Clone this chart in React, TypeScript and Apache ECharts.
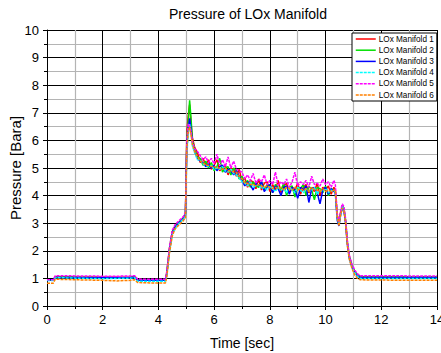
import React, { useEffect, useRef } from "react";
import * as echarts from "echarts";

const TITLE = "Pressure of LOx Manifold";
const X_NAME = "Time [sec]";
const Y_NAME = "Pressure [Bara]";
const SERIES_NAMES = ["LOx Manifold 1", "LOx Manifold 2", "LOx Manifold 3", "LOx Manifold 4", "LOx Manifold 5", "LOx Manifold 6"];
const COLORS = ["#ff0000", "#00e000", "#0000ff", "#00ffff", "#ff00ff", "#ff8000"];
const DASHED = [false, false, false, true, true, true];

// time stamps [sec]
const T = [
  0, 0.22, 0.3, 0.6, 1.0, 1.5, 2.0, 2.5, 3.0, 3.15, 3.25, 3.5, 4.0, 4.25, 4.3, 4.4, 4.5, 4.6, 4.7, 4.8, 4.9, 4.97, 5.02, 5.07, 5.12, 5.17, 5.22, 5.3,
  5.4, 5.5, 5.6, 5.7, 5.8, 5.9, 6.0, 6.1, 6.2, 6.3, 6.4, 6.5, 6.6, 6.7, 6.8, 6.9, 7.0, 7.1, 7.2, 7.3, 7.4, 7.5, 7.6, 7.7, 7.8, 7.9,
  8.0, 8.1, 8.2, 8.3, 8.4, 8.5, 8.6, 8.7, 8.8, 8.9, 9.0, 9.1, 9.2, 9.3, 9.4, 9.5, 9.6, 9.7, 9.8, 9.9, 10.0, 10.1, 10.2, 10.3,
  10.35, 10.42, 10.48, 10.54, 10.6, 10.66, 10.72, 10.78, 10.85, 10.95, 11.05, 11.15, 11.25, 11.5, 12, 13, 14,
];

const M1 = [
  0.93, 0.93, 1.06, 1.06, 1.05, 1.05, 1.04, 1.04, 1.05, 1.06, 0.96, 0.95, 0.95, 0.95, 1.2, 2.1, 2.7, 2.9, 3.0, 3.1, 3.2, 3.35, 6.3, 6.9, 7.3, 6.6, 6.1, 5.75,
  5.55, 5.2, 5.35, 5.1, 5.3, 4.95, 5.1, 5.3, 4.9, 5.0, 5.1, 4.75, 5.0, 4.95, 4.7, 4.95, 4.5, 4.65, 4.3, 4.55, 4.5, 4.25, 4.6, 4.2, 4.45, 4.5,
  4.15, 4.4, 4.2, 4.55, 4.1, 4.35, 4.45, 4.1, 4.3, 4.2, 4.45, 4.05, 4.3, 4.4, 4.1, 4.3, 4.15, 4.45, 4.0, 4.3, 4.2, 4.35, 4.05, 4.3,
  4.2, 3.2, 3.0, 3.4, 3.6, 3.5, 3.05, 2.3, 1.8, 1.45, 1.25, 1.12, 1.06, 1.06, 1.06, 1.05, 1.05,
];
const M2 = [
  0.93, 0.93, 1.05, 1.05, 1.05, 1.04, 1.04, 1.03, 1.04, 1.05, 0.95, 0.94, 0.94, 0.94, 1.2, 2.1, 2.7, 2.9, 3.0, 3.1, 3.2, 3.35, 6.1, 6.7, 7.45, 6.8, 6.0, 5.7,
  5.4, 5.35, 5.1, 5.25, 5.0, 5.2, 4.9, 5.05, 5.35, 4.85, 5.0, 5.05, 4.75, 5.0, 4.9, 4.6, 4.7, 4.4, 4.55, 4.3, 4.5, 4.35, 4.3, 4.5, 4.2, 4.4,
  4.35, 4.1, 4.4, 4.3, 4.2, 4.45, 4.0, 4.3, 4.35, 3.95, 4.3, 4.25, 4.4, 4.0, 4.35, 4.2, 3.85, 4.3, 4.25, 4.1, 4.35, 4.0, 4.25, 4.2,
  4.15, 3.3, 2.95, 3.35, 3.65, 3.55, 3.1, 2.35, 1.8, 1.45, 1.25, 1.12, 1.06, 1.05, 1.05, 1.05, 1.05,
];
const M3 = [
  0.95, 0.95, 1.03, 1.03, 1.03, 1.02, 1.02, 1.02, 1.03, 1.04, 0.93, 0.93, 0.93, 0.93, 1.15, 2.05, 2.65, 2.85, 2.97, 3.07, 3.17, 3.3, 5.9, 6.4, 6.8, 6.4, 5.9, 5.6,
  5.35, 5.25, 5.2, 5.05, 5.15, 5.0, 5.1, 4.9, 5.05, 5.1, 4.85, 4.95, 4.9, 4.75, 4.9, 4.7, 4.55, 4.35, 4.5, 4.4, 4.2, 4.45, 4.35, 4.5, 4.15, 4.3,
  4.4, 4.1, 4.35, 4.25, 4.0, 4.3, 4.35, 4.05, 4.3, 4.2, 3.9, 4.3, 4.2, 4.35, 3.75, 4.25, 4.3, 4.1, 3.7, 4.2, 4.3, 4.05, 4.25, 4.15,
  4.1, 3.1, 2.9, 3.3, 3.55, 3.45, 3.0, 2.25, 1.75, 1.4, 1.2, 1.08, 1.03, 1.03, 1.03, 1.03, 1.03,
];
const M4 = [
  0.92, 0.92, 1.02, 1.02, 1.01, 1.0, 0.99, 1.0, 1.01, 1.02, 0.9, 0.9, 0.9, 0.9, 1.1, 2.0, 2.6, 2.8, 2.95, 3.05, 3.15, 3.25, 5.5, 6.2, 6.6, 6.3, 5.8, 5.55,
  5.3, 5.3, 5.15, 5.1, 5.05, 5.1, 4.95, 5.0, 4.95, 5.05, 4.9, 4.85, 4.95, 4.8, 4.75, 4.65, 4.5, 4.45, 4.35, 4.5, 4.3, 4.35, 4.4, 4.25, 4.3, 4.2,
  4.35, 4.25, 4.15, 4.3, 4.2, 4.25, 4.1, 4.3, 4.2, 4.1, 4.3, 4.2, 4.1, 4.25, 4.15, 4.2, 4.3, 4.05, 4.2, 4.15, 4.25, 4.1, 4.2, 4.15,
  4.15, 3.15, 2.95, 3.3, 3.6, 3.5, 3.05, 2.3, 1.75, 1.4, 1.2, 1.06, 1.0, 1.0, 1.0, 1.0, 1.0,
];
const M5 = [
  0.95, 0.95, 1.1, 1.1, 1.09, 1.09, 1.08, 1.08, 1.09, 1.1, 0.98, 0.97, 0.97, 0.97, 1.25, 2.15, 2.75, 2.95, 3.05, 3.15, 3.25, 3.4, 6.0, 6.6, 6.5, 6.3, 5.95, 5.7,
  5.6, 5.45, 5.3, 5.4, 5.2, 5.35, 5.15, 5.5, 5.1, 5.3, 5.05, 5.4, 5.0, 5.25, 4.95, 4.9, 4.85, 4.6, 4.75, 4.55, 4.8, 4.45, 4.6, 4.5, 4.75, 4.4,
  4.55, 4.4, 4.85, 4.35, 4.5, 4.4, 4.6, 4.3, 4.5, 4.85, 4.35, 4.5, 4.4, 4.55, 4.3, 4.7, 4.4, 4.45, 4.35, 4.6, 4.4, 4.5, 4.3, 4.55,
  4.4, 3.35, 3.05, 3.45, 3.7, 3.6, 3.15, 2.4, 1.85, 1.5, 1.3, 1.16, 1.1, 1.1, 1.1, 1.09, 1.09,
];
const M6 = [
  0.82, 0.82, 0.97, 0.96, 0.95, 0.94, 0.93, 0.91, 0.93, 0.95, 0.85, 0.84, 0.83, 0.83, 1.05, 1.95, 2.55, 2.8, 2.9, 3.0, 3.1, 3.2, 5.7, 6.3, 6.5, 6.2, 5.85, 5.6,
  5.4, 5.25, 5.2, 5.1, 5.1, 5.05, 5.05, 5.0, 5.0, 4.95, 5.0, 4.9, 4.9, 4.85, 4.85, 4.7, 4.6, 4.45, 4.45, 4.4, 4.4, 4.35, 4.4, 4.35, 4.3, 4.35,
  4.3, 4.25, 4.3, 4.25, 4.3, 4.2, 4.3, 4.25, 4.2, 4.3, 4.2, 4.25, 4.2, 4.25, 4.15, 4.3, 4.2, 4.2, 4.15, 4.25, 4.15, 4.2, 4.15, 4.2,
  4.2, 3.2, 2.9, 3.3, 3.55, 3.45, 3.0, 2.2, 1.7, 1.35, 1.12, 1.0, 0.95, 0.94, 0.94, 0.93, 0.93,
];
const VALUES = [M1, M2, M3, M4, M5, M6];

const FONT = "'Liberation Sans', Arial, sans-serif";

export default function App() {
  const ref = useRef<HTMLDivElement>(null);
  useEffect(() => {
    if (!ref.current) return;
    const chart = echarts.init(ref.current, undefined, { renderer: "svg" });
    const axisCommon = {
      axisLine: { show: true, onZero: false, lineStyle: { color: "#000", width: 1 } },
      axisTick: { show: true, inside: false, length: 4, lineStyle: { color: "#000" } },
      minorTick: { show: true, splitNumber: 2, length: 3, lineStyle: { color: "#000" } },
      splitLine: { show: true, lineStyle: { color: "#000", width: 1 } },
      minorSplitLine: { show: true, lineStyle: { color: "#b4b4b4", width: 1.2 } },
      axisLabel: { color: "#000", fontSize: 13, fontFamily: FONT },
      nameMoveOverlap: false,
    };
    chart.setOption({
      animation: false,
      backgroundColor: "#fff",
      textStyle: { fontFamily: FONT },
      title: {
        text: TITLE,
        left: 169,
        top: 7,
        padding: 0,
        textStyle: { fontSize: 14, fontWeight: "normal", color: "#000", fontFamily: FONT },
      },
      legend: {
        orient: "vertical",
        left: 352,
        top: 33,
        padding: [2, 3, 2, 3],
        itemWidth: 20,
        itemHeight: 8,
        itemGap: 3.2,
        backgroundColor: "#fff",
        borderColor: "#000",
        borderWidth: 1,
        borderRadius: 0,
        itemStyle: { opacity: 0 },
        lineStyle: { width: 1.5 },
        textStyle: { fontSize: 8.2, lineHeight: 8, color: "#000", fontFamily: FONT, padding: [0, 0, 0, -2] },
        data: SERIES_NAMES,
      },
      grid: { left: 47, right: 4, top: 30, bottom: 47, containLabel: false, outerBoundsMode: "none" },
      xAxis: {
        type: "value",
        min: 0,
        max: 14,
        interval: 2,
        name: X_NAME,
        nameLocation: "middle",
        nameGap: 30,
        nameTextStyle: { color: "#000", fontSize: 14, fontFamily: FONT },
        ...axisCommon,
        axisLabel: { ...axisCommon.axisLabel, margin: 7 },
      },
      yAxis: {
        type: "value",
        min: 0,
        max: 10,
        interval: 1,
        name: Y_NAME,
        nameLocation: "middle",
        nameGap: 24,
        nameTextStyle: { color: "#000", fontSize: 15, fontFamily: FONT },
        ...axisCommon,
        axisLabel: { ...axisCommon.axisLabel, margin: 8 },
      },
      series: SERIES_NAMES.map((name, i) => ({
        name,
        type: "line",
        symbol: "none",
        showSymbol: false,
        color: COLORS[i],
        lineStyle: { color: COLORS[i], width: 1.5, type: DASHED[i] ? [3, 1] : "solid" },
        data: T.map((t, k) => [t, VALUES[i][k]]),
      })),
    });
    return () => chart.dispose();
  }, []);
  return <div ref={ref} style={{ position: "fixed", left: 0, top: 0, width: 441, height: 353 }} />;
}
